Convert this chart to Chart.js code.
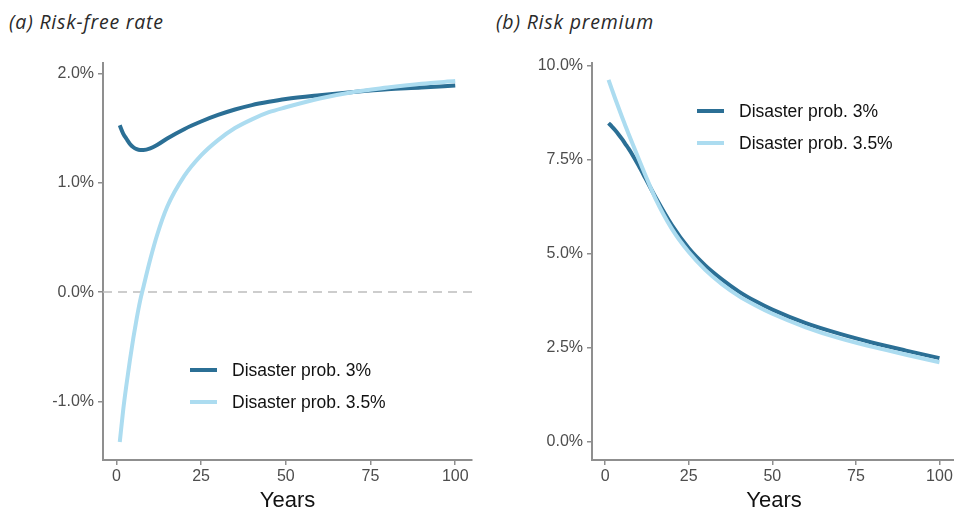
<!DOCTYPE html>
<html>
<head>
<meta charset="utf-8">
<script src="https://cdn.jsdelivr.net/npm/chart.js@4.4.1/dist/chart.umd.min.js"></script>
<style>
  body { margin: 0; background: #fff; }
  #wrap { position: relative; width: 954px; height: 514px; overflow: hidden; }
  .title { position: absolute; top: 8px; font: italic 19.5px "Open Sans", Lato, sans-serif; letter-spacing: 0.8px; color: #2a2a2a; white-space: nowrap; }
  .box { position: absolute; top: 0; height: 514px; }
</style>
</head>
<body>
<div id="wrap">
  <div class="title" style="left:9px">(a) Risk-free rate</div>
  <div class="title" style="left:496px">(b) Risk premium</div>
  <div class="box" style="left:0;width:477px"><canvas id="rf"></canvas></div>
  <div class="box" style="left:477px;width:482px"><canvas id="rp"></canvas></div>
</div>
<script>
// data
const years = [1, 2, 3, 4, 5, 6, 7, 8, 10, 12, 15, 20, 25, 30, 35, 40, 45, 50, 60, 70, 80, 90, 100];
const seriesNames = ['Disaster prob. 3%', 'Disaster prob. 3.5%'];

// (a) risk-free rate, %
const rf3 = [1.525, 1.45, 1.40, 1.355, 1.325, 1.307, 1.30, 1.30, 1.315, 1.345, 1.405, 1.49, 1.56, 1.62, 1.67, 1.71, 1.74, 1.765, 1.80, 1.83, 1.855, 1.87, 1.89];
const rf35 = [-1.37, -1.08, -0.84, -0.62, -0.42, -0.24, -0.08, 0.05, 0.30, 0.52, 0.78, 1.06, 1.25, 1.39, 1.50, 1.58, 1.645, 1.69, 1.77, 1.83, 1.87, 1.905, 1.93];

// (b) risk premium, %
const rp3 = [8.48, 8.39, 8.29, 8.18, 8.06, 7.93, 7.80, 7.66, 7.35, 7.02, 6.52, 5.76, 5.15, 4.69, 4.32, 4.00, 3.74, 3.52, 3.16, 2.88, 2.64, 2.43, 2.23];
const rp35 = [9.63, 9.38, 9.13, 8.89, 8.65, 8.42, 8.19, 7.97, 7.53, 7.10, 6.48, 5.66, 5.05, 4.57, 4.19, 3.88, 3.63, 3.41, 3.05, 2.76, 2.53, 2.32, 2.12];

const xTicks = [0, 25, 50, 75, 100];
const rfTicks = [-1, 0, 1, 2];
const rpTicks = [0, 2.5, 5, 7.5, 10];

const dark = '#2b6f95';
const light = '#acdcf0';
const axisGrey = '#8f8f8f';
const tickFont = { family: '"Liberation Sans", Arial, sans-serif', size: 16 };

// zero line + legend drawn inside the plot
const extras = {
  id: 'extras',
  beforeDatasetsDraw(chart, args, opts) {
    if (!opts.zeroLine) return;
    const { ctx, chartArea } = chart;
    const y = chart.scales.y.getPixelForValue(0);
    ctx.save();
    ctx.strokeStyle = '#bdbdbd';
    ctx.lineWidth = 1.5;
    ctx.setLineDash([9, 6]);
    ctx.beginPath();
    ctx.moveTo(chartArea.left, y);
    ctx.lineTo(chartArea.right, y);
    ctx.stroke();
    ctx.restore();
  },
  afterDraw(chart, args, opts) {
    const ctx = chart.ctx;
    ctx.save();
    ctx.font = '17.5px "Liberation Sans", Arial, sans-serif';
    ctx.textBaseline = 'middle';
    chart.data.datasets.forEach((ds, i) => {
      const y = opts.y + i * 32;
      ctx.strokeStyle = ds.borderColor;
      ctx.lineWidth = 4;
      ctx.beginPath();
      ctx.moveTo(opts.x, y);
      ctx.lineTo(opts.x + 27, y);
      ctx.stroke();
      ctx.fillStyle = '#111';
      ctx.fillText(ds.label, opts.x + 42, y + 1);
    });
    ctx.restore();
  }
};

function makeChart(id, a, b, yMin, yMax, yTicks, yWidth, padRight, legendPos, zeroLine) {
  const pts = arr => years.map((x, i) => ({ x: x, y: arr[i] }));
  return new Chart(document.getElementById(id), {
    type: 'line',
    data: {
      datasets: [
        { label: seriesNames[0], data: pts(a), borderColor: dark, order: 1 },
        { label: seriesNames[1], data: pts(b), borderColor: light, order: 0 }
      ]
    },
    options: {
      responsive: true,
      maintainAspectRatio: false,
      animation: false,
      events: [],
      layout: { padding: { left: 0, right: padRight, top: 63, bottom: 0 } },
      elements: {
        point: { radius: 0 },
        line: { borderWidth: 4, cubicInterpolationMode: 'monotone', borderCapStyle: 'butt' }
      },
      scales: {
        x: {
          type: 'linear',
          min: -3.95,
          max: 104.95,
          afterBuildTicks: s => { s.ticks = xTicks.map(v => ({ value: v })); },
          afterFit: s => { s.height = 54; },
          ticks: { font: tickFont, color: '#4d4d4d', padding: 2, maxRotation: 0 },
          grid: { drawOnChartArea: false, drawTicks: true, tickLength: 5, color: axisGrey, lineWidth: 1.5 },
          border: { display: true, color: axisGrey, width: 2 },
          title: { display: true, text: 'Years', color: '#111', font: { family: '"Liberation Sans", Arial, sans-serif', size: 22 }, padding: { top: 0, bottom: 0 } }
        },
        y: {
          min: yMin,
          max: yMax,
          afterBuildTicks: s => { s.ticks = yTicks.map(v => ({ value: v })); },
          afterFit: s => { s.width = yWidth; },
          ticks: { font: tickFont, color: '#4d4d4d', padding: 4, callback: v => v.toFixed(1) + '%' },
          grid: { drawOnChartArea: false, drawTicks: true, tickLength: 5, color: axisGrey, lineWidth: 1.5 },
          border: { display: true, color: axisGrey, width: 2 }
        }
      },
      plugins: {
        legend: { display: false },
        tooltip: { enabled: false },
        extras: { x: legendPos[0], y: legendPos[1], zeroLine: zeroLine }
      }
    },
    plugins: [extras]
  });
}

makeChart('rf', rf3, rf35, -1.535, 2.095, rfTicks, 103, 5, [190, 370], true);
makeChart('rp', rp3, rp35, -0.48, 10.08, rpTicks, 115, 3, [220, 111], false);
</script>
</body>
</html>
